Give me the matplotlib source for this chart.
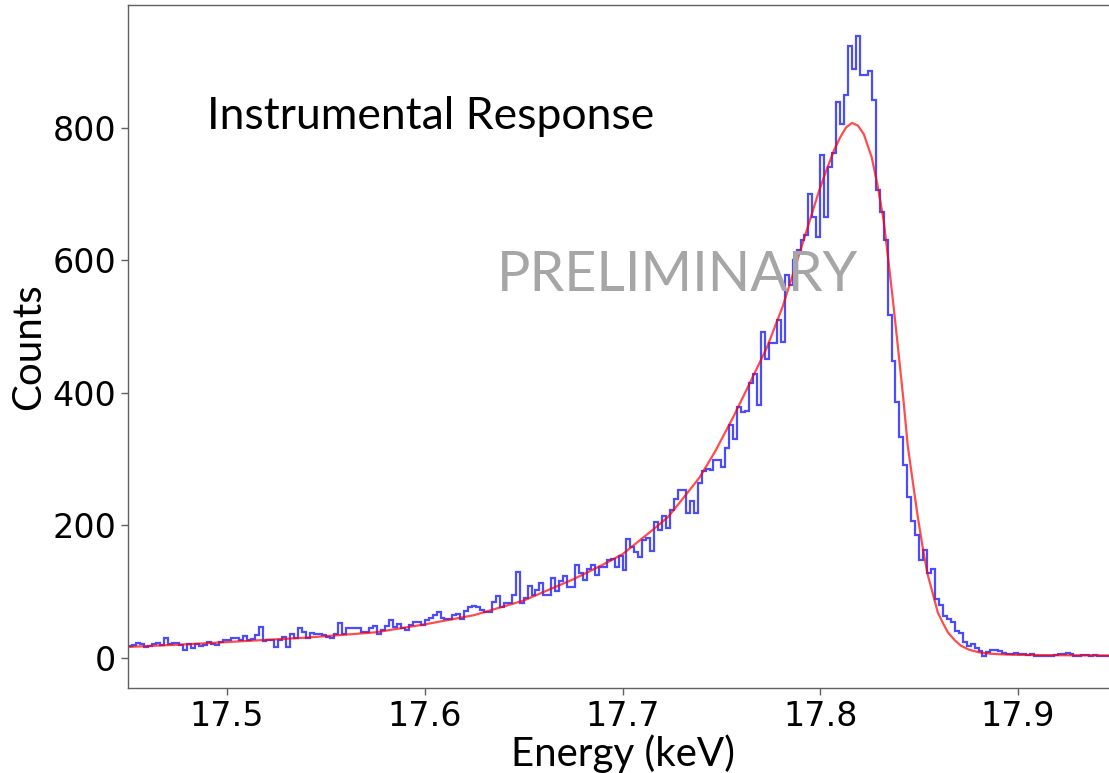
import numpy as np
import matplotlib
matplotlib.use("Agg")
import matplotlib.pyplot as plt

# histogram of counts, 0.002 keV bins starting at 17.45 keV
bin_start = 17.45
bin_width = 0.002
counts = [
    17, 19, 22, 20, 16, 18, 21, 22, 19, 29,
    20, 22, 22, 19, 12, 20, 15, 21, 17, 19,
    24, 21, 19, 24, 27, 27, 30, 29, 27, 33,
    26, 28, 34, 46, 25, 27, 27, 16, 26, 31,
    16, 36, 29, 44, 39, 29, 37, 35, 35, 34,
    31, 30, 35, 52, 36, 45, 45, 45, 44, 38,
    38, 45, 48,
    35, 42, 47, 56, 46, 51, 45, 42, 49, 53, 54, 49, 57, 60, 64, 68,
    60, 58, 58, 64, 66, 58, 70, 77, 78, 76, 71, 69, 68,
    84, 93, 77, 83, 83, 95, 129, 83, 90, 108, 95, 102, 112, 95, 95, 120,
    100, 116, 123, 107, 107, 139, 127, 117, 133, 139, 124, 137, 137, 147,
    148, 137, 153, 132,
    179, 167, 160, 152, 177, 181, 161, 205, 192, 214, 195, 223, 240, 253,
    253, 218, 236, 218, 263, 281, 285, 283, 298, 298, 288, 316,
    351, 330, 378, 370, 372, 414, 428, 381, 492, 450, 475, 475, 509, 477,
    577, 562, 600, 615, 630, 638, 700, 665, 635, 758, 665, 740, 761, 839,
    806, 849, 923, 888, 938, 879, 879, 886, 842, 706, 673, 630, 517,
    448, 386, 333, 290, 243, 206, 185, 147, 163, 127, 134, 89, 80, 62,
    58, 54, 40, 37, 24, 17, 20, 14, 10, 3, 8, 11, 12, 10, 7, 5, 6, 7, 5,
    6, 4, 5, 2, 3, 3, 3, 3, 4, 5, 5, 7, 5, 3, 2, 4, 4, 3, 4, 2, 2, 3, 3, 2,
]

# fitted response curve
fit_energy = [17.45, 17.48, 17.51, 17.54, 17.575, 17.60, 17.625, 17.65, 17.675,
              17.69, 17.70, 17.71, 17.715, 17.723, 17.73, 17.739, 17.747,
              17.756, 17.764, 17.773, 17.781, 17.79, 17.799, 17.803, 17.807,
              17.810, 17.813, 17.816, 17.819, 17.822, 17.826, 17.829, 17.832,
              17.834, 17.8365, 17.8392, 17.842, 17.8442, 17.847, 17.8493,
              17.852, 17.8543, 17.857, 17.8594, 17.862, 17.8645, 17.868,
              17.871, 17.875, 17.88, 17.885, 17.89, 17.90, 17.92, 17.95]
fit_counts = [16, 20, 25, 30, 38, 50, 64, 86, 118,
              140, 156, 180, 192, 212, 238, 272, 312,
              363, 412, 468, 530, 615, 701, 735, 766,
              785, 800, 807, 803, 790, 755, 712, 660,
              610, 545, 470, 390, 320, 260, 212,
              162, 125, 95, 68, 52, 38, 26,
              18, 12, 8, 6, 5, 4, 3.5, 3]

x_ticks = [17.5, 17.6, 17.7, 17.8, 17.9]
y_ticks = [0, 200, 400, 600, 800]

label_font = "Lato"
tick_font = "DejaVu Sans"

edges = bin_start + bin_width * np.arange(len(counts) + 1)

fig = plt.figure(figsize=(11.09, 7.73), dpi=100)
ax = fig.add_axes([128 / 1109, 85 / 773, 989 / 1109, 683 / 773])

ax.stairs(counts, edges, baseline=None, color="blue", alpha=0.7, linewidth=1.6)
ax.plot(fit_energy, fit_counts, color="red", alpha=0.7, linewidth=1.6)

ax.set_xlim(17.45, 17.95)
ax.set_ylim(-46, 985)
ax.set_xticks(x_ticks)
ax.set_xticklabels([f"{t:.1f}" for t in x_ticks], family=tick_font)
ax.set_yticks(y_ticks)
ax.set_yticklabels([str(t) for t in y_ticks], family=tick_font)
ax.tick_params(labelsize=24, width=1, length=5, color="#606060")
for s in ax.spines.values():
    s.set_color("#606060")
    s.set_linewidth(1)

ax.set_xlabel("Energy (keV)", fontsize=29, family=label_font, labelpad=1)
ax.set_ylabel("Counts", fontsize=29, family=label_font, labelpad=4)

ax.text(17.49, 816, "Instrumental Response", fontsize=32, family=label_font,
        ha="left", va="center")
ax.text(17.728, 577, "PRELIMINARY", fontsize=40, family=label_font,
        color="#a6a6a6", ha="center", va="center")

fig.savefig("out.png", dpi=100)
